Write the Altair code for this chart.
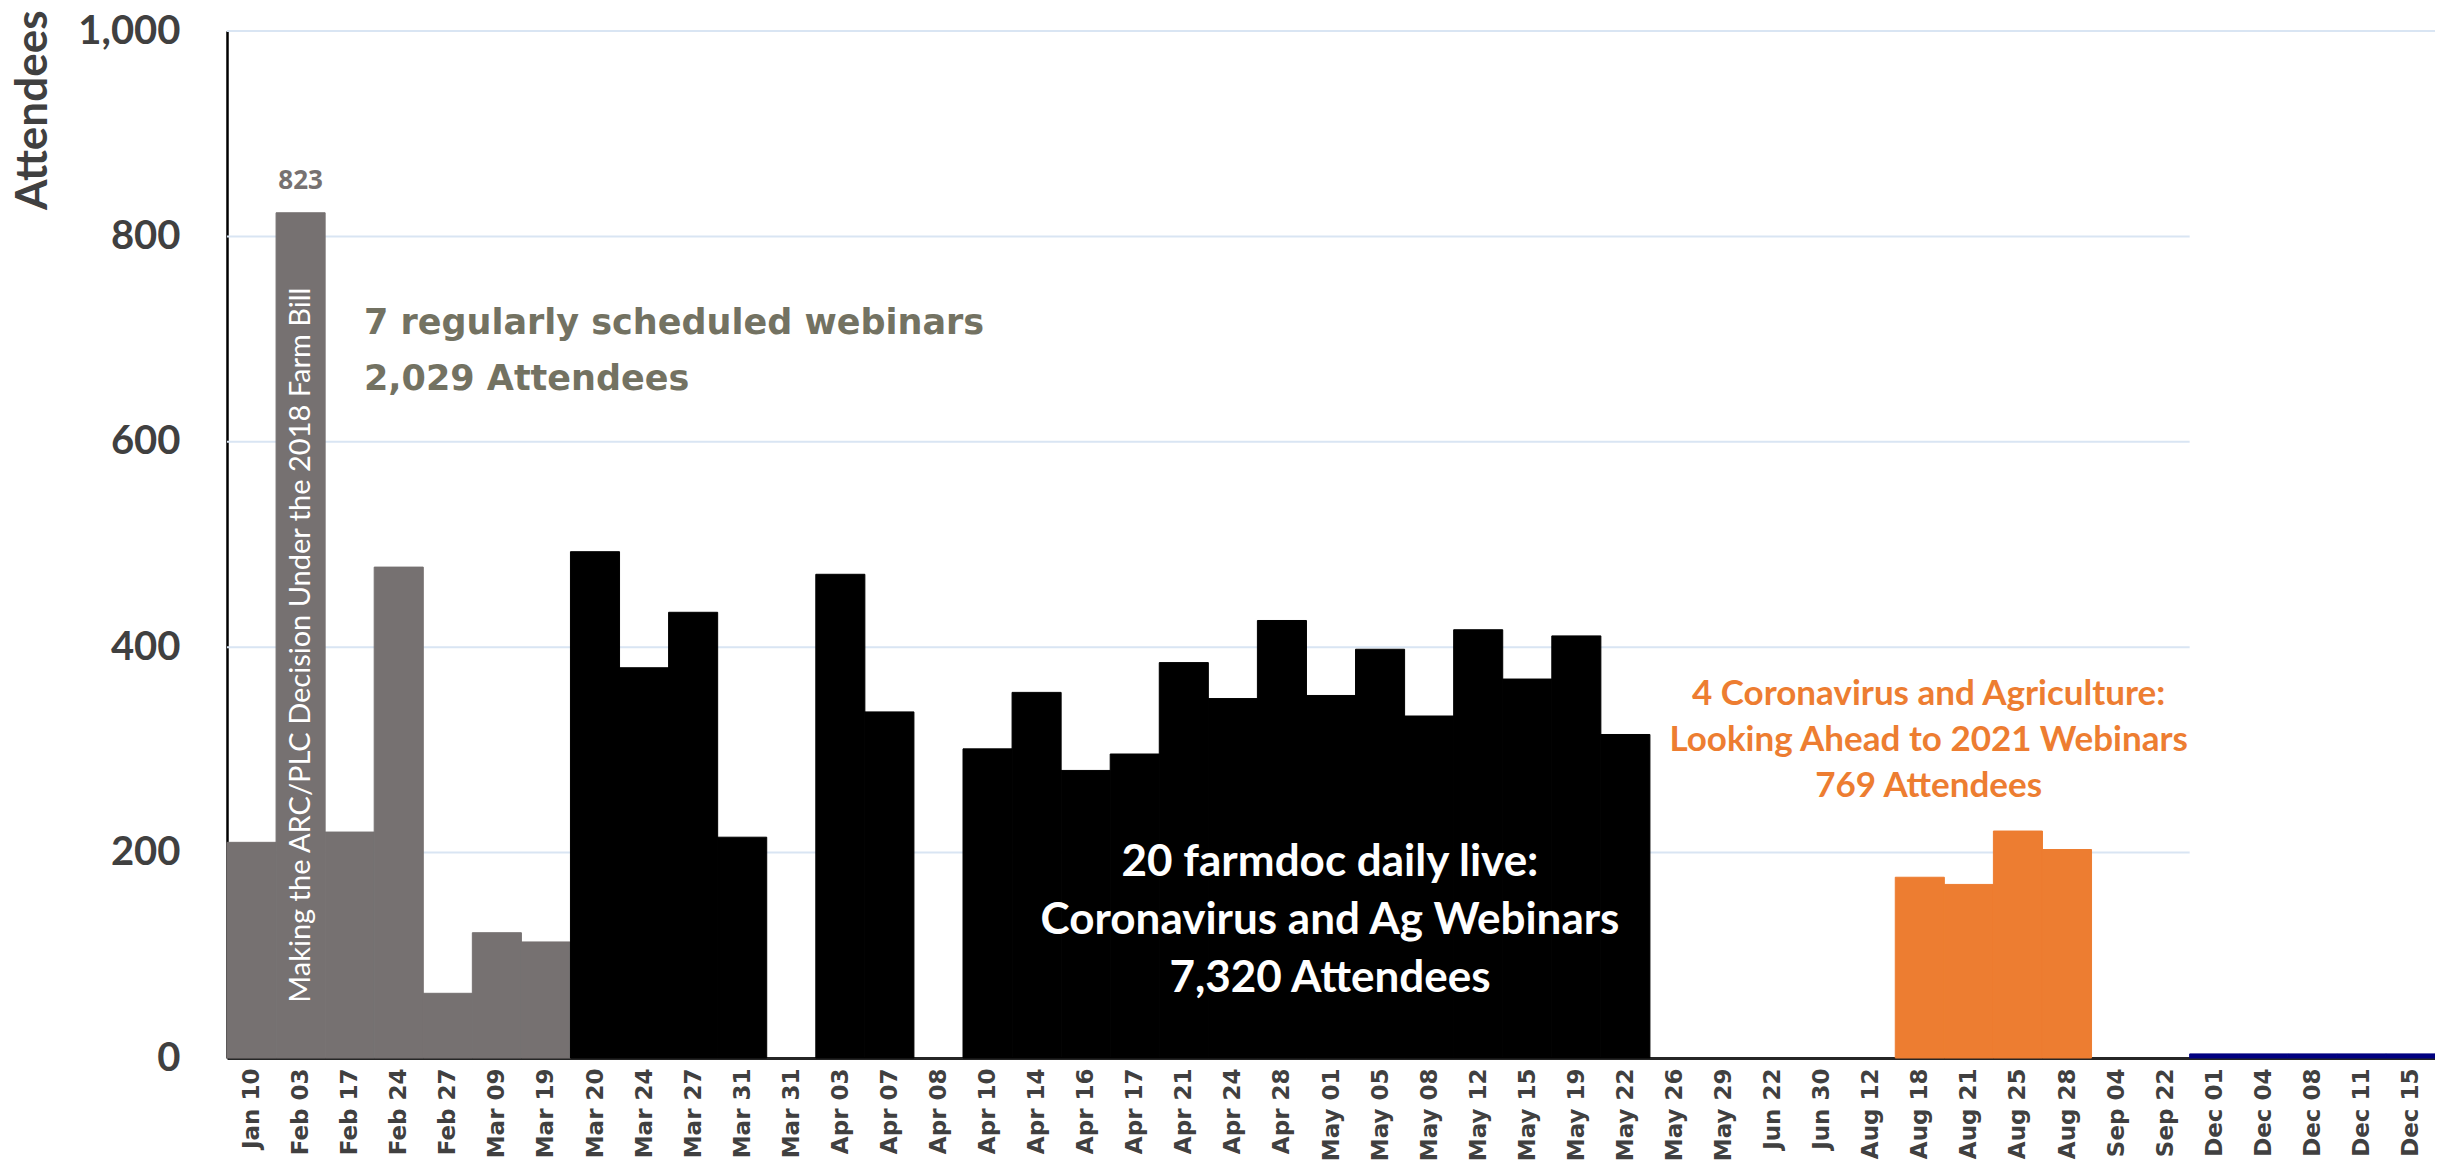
import altair as alt
import pandas as pd

# ---- data ----
labels = ["Jan 10", "Feb 03", "Feb 17", "Feb 24", "Feb 27", "Mar 09", "Mar 19",
          "Mar 20", "Mar 24", "Mar 27", "Mar 31", "Mar 31", "Apr 03", "Apr 07",
          "Apr 08", "Apr 10", "Apr 14", "Apr 16", "Apr 17", "Apr 21", "Apr 24",
          "Apr 28", "May 01", "May 05", "May 08", "May 12", "May 15", "May 19",
          "May 22", "May 26", "May 29", "Jun 22", "Jun 30", "Aug 12", "Aug 18",
          "Aug 21", "Aug 25", "Aug 28", "Sep 04", "Sep 22", "Dec 01", "Dec 04",
          "Dec 08", "Dec 11", "Dec 15"]
attendees = [210, 823, 220, 478, 63, 122, 113,
             493, 380, 434, 215, 0, 471, 337,
             0, 301, 356, 280, 296, 385, 350,
             426, 353, 398, 333, 417, 369, 411,
             315, 0, 0, 0, 0, 0, 176,
             169, 221, 203, 0, 0, 4, 4,
             4, 4, 4]
series = (["regular"] * 7 + ["live"] * 4 + ["none"] + ["live"] * 2 + ["none"] +
          ["live"] * 14 + ["none"] * 5 + ["outlook"] * 4 + ["none"] * 2 + ["dec"] * 5)
series_names = ["regular", "live", "none", "outlook", "dec"]
series_colors = ["#767171", "#000000", "transparent", "#ED7D31", "#000080"]

grid_values = [200, 400, 600, 800, 1000]

note_regular = "7 regularly scheduled webinars\n2,029 Attendees"
note_live = "20 farmdoc daily live:\nCoronavirus and Ag Webinars\n7,320 Attendees"
note_outlook = "4 Coronavirus and Agriculture:\nLooking Ahead to 2021 Webinars\n769 Attendees"
note_bar = "Making the ARC/PLC Decision Under the 2018 Farm Bill"
peak_label = "823"

# ---- tables ----
n = len(labels)
df = pd.DataFrame({
    "i": list(range(n)),
    "label": labels,
    "value": attendees,
    "series": series,
})
df["i2"] = df["i"] + 1

dec_start = labels.index("Dec 01")
grid_df = pd.DataFrame({
    "v": grid_values,
    "x0": [0] * len(grid_values),
    "x1": [dec_start if v < 1000 else n for v in grid_values],
})

peak_i = attendees.index(max(attendees))

label_expr = "[" + ",".join("'" + l + "'" for l in labels) + "][floor(datum.value)]"

xscale = alt.Scale(domain=[0, n], nice=False, zero=False)
yscale = alt.Scale(domain=[0, 1000], nice=False)

x_axis = alt.Axis(
    values=[k + 0.5 for k in range(n)], labelExpr=label_expr, title=None,
    labelAngle=270, labelAlign="right", labelBaseline="middle",
    labelFont="DejaVu Sans", labelFontWeight="bold", labelFontSize=23,
    labelColor="#404040", labelPadding=10, ticks=False, grid=False,
    domainColor="#262626", domainWidth=3, labelOverlap=False, labelFlush=False,
)
y_axis = alt.Axis(
    values=[0] + grid_values, labelExpr="format(datum.value, ',')", title="Attendees",
    titleFont="Lato", titleFontWeight="bold", titleFontSize=44,
    titleColor="#404040", titleAngle=270, titleAlign="right",
    titleBaseline="middle", titleX=-194, titleY=-21,
    labelFont="Lato", labelFontWeight="bold", labelFontSize=40,
    labelColor="#404040", labelPadding=47, ticks=False, grid=False,
    domainColor="#000000", domainWidth=2.5,
)

grid = alt.Chart(grid_df).mark_rule(color="#D9E5F3", strokeWidth=2).encode(
    x=alt.X("x0:Q", scale=xscale, axis=x_axis),
    x2="x1:Q",
    y=alt.Y("v:Q", scale=yscale, axis=y_axis),
)

cscale = alt.Scale(domain=series_names, range=series_colors)
bars = alt.Chart(df).mark_bar(strokeWidth=1).encode(
    x=alt.X("i:Q", scale=xscale, axis=x_axis),
    x2="i2:Q",
    y=alt.Y("value:Q", scale=yscale, axis=y_axis),
    y2=alt.datum(0),
    color=alt.Color("series:N", scale=cscale, legend=None),
    stroke=alt.Stroke("series:N", scale=cscale, legend=None),
)

def note(x, y, text):
    return pd.DataFrame({"x": [x], "y": [y], "t": [text]})

def enc(ch):
    return ch.encode(x=alt.X("x:Q", scale=xscale, axis=x_axis),
                     y=alt.Y("y:Q", scale=yscale, axis=y_axis), text="t:N")

t_regular = enc(alt.Chart(note(2.79, 716, note_regular)).mark_text(
    align="left", baseline="middle", font="DejaVu Sans", fontWeight="bold",
    fontSize=35, lineHeight=56, lineBreak="\n", color="#737262",
))

t_live = enc(alt.Chart(note(22.48, 190, note_live)).mark_text(
    align="center", baseline="middle", font="Lato", fontWeight="bold",
    fontSize=44, lineHeight=58, lineBreak="\n", color="#FFFFFF",
))

t_outlook = enc(alt.Chart(note(34.68, 354, note_outlook)).mark_text(
    align="center", baseline="middle", font="Lato", fontWeight="bold",
    fontSize=35, lineHeight=46, lineBreak="\n", color="#ED7D31",
))

t_bar = enc(alt.Chart(note(peak_i + 0.5, 402, note_bar)).mark_text(
    align="center", baseline="middle", font="Lato", fontSize=29, angle=270,
    color="#FFFFFF",
))

t_peak = enc(alt.Chart(note(peak_i + 0.5, max(attendees), peak_label)).mark_text(
    align="center", baseline="middle", font="Open Sans", fontWeight="bold",
    fontSize=26, dy=-32, color="#767171",
))

chart = alt.layer(grid, bars, t_regular, t_live, t_outlook, t_bar, t_peak).properties(
    width=2208, height=1027,
    padding={"left": 219, "top": 23, "right": 0, "bottom": 103},
    autosize=alt.AutoSizeParams(type="none"),
    background="#FFFFFF",
).configure_view(stroke=None)

chart.save("out.html", embed_options={"renderer": "svg", "actions": False})
